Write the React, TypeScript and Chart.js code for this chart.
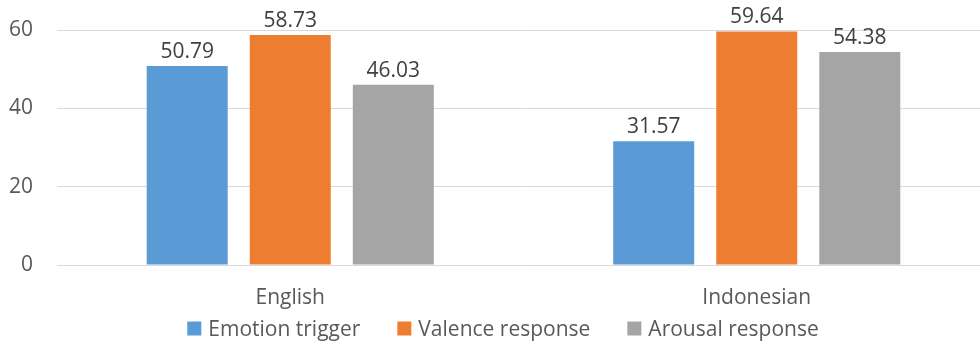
import React, { useEffect, useRef } from "react";
import { Chart, registerables } from "chart.js";

Chart.register(...registerables);

const categories = ["English", "Indonesian"];
const seriesNames = ["Emotion trigger", "Valence response", "Arousal response"];
const emotionTrigger = [50.79, 31.57];
const valenceResponse = [58.73, 59.64];
const arousalResponse = [46.03, 54.38];
const yTicks = [0, 20, 40, 60];

const colors = ["#5B9BD5", "#ED7D31", "#A5A5A5"];
const FONT = "'Open Sans', sans-serif";

const valueLabels = {
  id: "valueLabels",
  afterDatasetsDraw(chart: any) {
    const ctx = chart.ctx;
    ctx.save();
    ctx.font = `21px ${FONT}`;
    ctx.fillStyle = "#404040";
    ctx.textAlign = "center";
    ctx.textBaseline = "alphabetic";
    chart.data.datasets.forEach((ds: any, i: number) => {
      const meta = chart.getDatasetMeta(i);
      meta.data.forEach((bar: any, j: number) => {
        ctx.fillText(Number(ds.data[j]).toFixed(2), bar.x, bar.y - 8);
      });
    });
    ctx.restore();
  },
};

const bottomLegend = {
  id: "bottomLegend",
  afterDraw(chart: any) {
    const ctx = chart.ctx;
    ctx.save();
    ctx.font = `21px ${FONT}`;
    const box = 14;
    const textGap = 7;
    const itemGap = 37;
    const items = chart.data.datasets.map((ds: any) => ({
      label: ds.label,
      color: ds.backgroundColor,
      w: box + textGap + ctx.measureText(ds.label).width,
    }));
    const total =
      items.reduce((s: number, it: any) => s + it.w, 0) + itemGap * (items.length - 1);
    let x = chart.width / 2 - total / 2;
    const yMid = 328.5;
    items.forEach((it: any) => {
      ctx.fillStyle = it.color;
      ctx.fillRect(x, yMid - box / 2, box, box);
      ctx.fillStyle = "#595959";
      ctx.textAlign = "left";
      ctx.textBaseline = "alphabetic";
      ctx.fillText(it.label, x + box + textGap, yMid + 7.5);
      x += it.w + itemGap;
    });
    ctx.restore();
  },
};

export default function App() {
  const ref = useRef<HTMLCanvasElement>(null);

  useEffect(() => {
    if (!ref.current) return;
    const series = [emotionTrigger, valenceResponse, arousalResponse];
    const chart = new Chart(ref.current, {
      type: "bar",
      data: {
        labels: categories,
        datasets: seriesNames.map((name, i) => ({
          label: name,
          data: series[i],
          backgroundColor: colors[i],
          borderWidth: 0,
          categoryPercentage: 0.6627,
          barPercentage: 0.786,
        })),
      },
      options: {
        responsive: false,
        animation: false,
        devicePixelRatio: 1,
        layout: {
          autoPadding: false,
          padding: { top: 30, left: 9, right: 16, bottom: 0 },
        },
        plugins: {
          legend: { display: false },
          tooltip: { enabled: false },
        },
        scales: {
          x: {
            grid: { display: false, drawTicks: false },
            border: { display: false },
            ticks: {
              color: "#595959",
              font: { family: FONT, size: 21 },
              padding: 20,
            },
            afterFit: (axis: any) => {
              axis.height = 78;
              axis.paddingLeft = 0;
              axis.paddingRight = 0;
            },
          },
          y: {
            min: 0,
            max: 60,
            afterBuildTicks: (axis: any) => {
              axis.ticks = yTicks.map((v) => ({ value: v }));
            },
            grid: { color: "#D9D9D9", lineWidth: 1, drawTicks: false },
            border: { display: false },
            ticks: {
              color: "#595959",
              font: { family: FONT, size: 21 },
              padding: 24,
            },
            afterFit: (axis: any) => {
              axis.width = 48;
              axis.paddingTop = 0;
              axis.paddingBottom = 0;
            },
          },
        },
      },
      plugins: [valueLabels, bottomLegend],
    });
    return () => chart.destroy();
  }, []);

  return (
    <div
      style={{
        position: "fixed",
        left: 0,
        top: 0,
        width: 980,
        height: 343,
        overflow: "hidden",
        background: "#ffffff",
      }}
    >
      <canvas ref={ref} width={1006} height={343} style={{ width: 1006, height: 343 }} />
    </div>
  );
}
